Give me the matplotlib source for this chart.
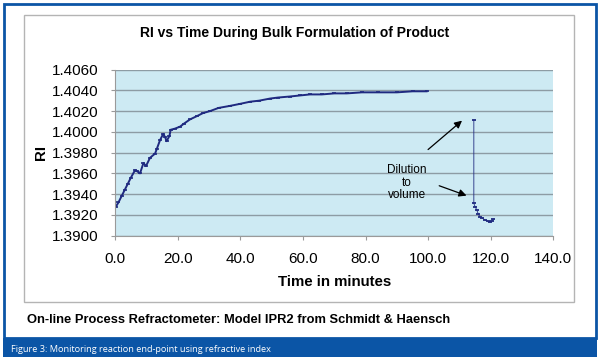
import matplotlib.pyplot as plt
from matplotlib.patches import Rectangle
import numpy as np

plt.rcParams['font.family'] = ['Liberation Sans', 'DejaVu Sans']

# RI readings before dilution
t_main = [0.2, 1.0, 2.0, 3.0, 4.0, 5.0, 6.3, 7.0, 7.9, 9.0, 9.8, 11.1, 12.7, 13.2,
          14.3, 15.3, 15.9, 16.4, 17.3, 17.7, 19.0, 20.7, 22.0, 23.9, 26.0, 28.0,
          30.3, 33.0, 36.7, 40.0, 43.1, 46.0, 49.4, 52.0, 55.8, 59.0, 62.2, 66.0,
          70.0, 74.0, 78.8, 84.0, 90.0, 95.0, 99.5]
ri_main = [1.3928, 1.3932, 1.3938, 1.3944, 1.3950, 1.3956, 1.3963, 1.3962, 1.3960,
           1.3970, 1.3967, 1.3975, 1.3979, 1.3983, 1.3992, 1.3998, 1.3995, 1.3991,
           1.3996, 1.4002, 1.4003, 1.4005, 1.4008, 1.4012, 1.4015, 1.4018, 1.4020,
           1.4023, 1.4025, 1.4027, 1.4029, 1.4030, 1.4032, 1.4033, 1.4034, 1.4035,
           1.4036, 1.4036, 1.4037, 1.4037, 1.4038, 1.4038, 1.4038, 1.4039, 1.4039]

# readings after dilution to volume
t_dil = [114.6, 114.6, 115.0, 115.5, 116.0, 116.6, 117.3, 118.2, 119.0, 119.8, 120.3, 120.8]
ri_dil = [1.4011, 1.3931, 1.3928, 1.3925, 1.3921, 1.3918, 1.3917, 1.3915, 1.3914,
          1.3913, 1.3914, 1.3916]

x_ticks = np.arange(0, 141, 20)
y_ticks = np.arange(1.3900, 1.40601, 0.002)

W, H = 600, 361
fig = plt.figure(figsize=(6, 3.61), dpi=100)


def box(x0, y0, x1, y1):
    # pixel box (top-left origin) -> figure fraction rect
    return [x0 / W, 1 - y1 / H, (x1 - x0) / W, (y1 - y0) / H]


# outer blue frame and caption band
blue = '#0b55a6'
fig.patches.append(Rectangle((3.5 / W, 1 - 338 / H), 592.5 / W, 334.5 / H, transform=fig.transFigure,
                             fill=False, edgecolor=blue, lw=2))
fig.patches.append(Rectangle((2.5 / W, 1 - 357 / H), 594.5 / W, 19 / H, transform=fig.transFigure,
                             facecolor=blue, edgecolor='none'))
# gray chart box
fig.patches.append(Rectangle((24 / W, 1 - 302 / H), 550 / W, 287 / H, transform=fig.transFigure,
                             fill=False, edgecolor='#b4b4b4', lw=1))

ax = fig.add_axes(box(115.3, 69.5, 553.3, 235.7))
ax.set_facecolor('#cdeaf3')
ax.plot(t_main, ri_main, color='#1f2a80', lw=1.4, marker='_', ms=3, mew=1.2)
ax.plot(t_dil, ri_dil, color='#1f2a80', lw=0.6, marker='_', ms=3, mew=1.3)

ax.set_xlim(0, 140)
ax.set_ylim(1.3900, 1.4060)
ax.set_xticks(x_ticks)
ax.set_xticklabels([f'{v:.1f}' for v in x_ticks], fontsize=11)
ax.set_yticks(y_ticks)
ax.set_yticklabels([f'{v:.4f}' for v in y_ticks], fontsize=11)
ax.yaxis.grid(True, color='#8d9ca4', lw=1)
ax.set_axisbelow(True)
for s in ['top', 'right']:
    ax.spines[s].set_visible(False)
for s in ['left', 'bottom']:
    ax.spines[s].set_color('#9a9a9a')
ax.tick_params(axis='both', direction='out', length=3, color='#9a9a9a')
ax.tick_params(axis='y', pad=9)
ax.tick_params(axis='x', pad=9)

ax.set_xlabel('Time in minutes', fontsize=10.8, fontweight='bold', labelpad=6)
ax.set_ylabel('RI', fontsize=10.8, fontweight='bold', labelpad=3)

ax.annotate('', xy=(111.5, 1.40125), xytext=(99.3, 1.39812),
            arrowprops=dict(arrowstyle='-|>', color='black', lw=0.9, mutation_scale=11))
ax.annotate('', xy=(113.1, 1.39377), xytext=(102.7, 1.3949),
            arrowprops=dict(arrowstyle='-|>', color='black', lw=0.9, mutation_scale=11))
ax.text(93.1, 1.39512, 'Dilution\nto\nvolume', fontsize=8.5, ha='center', va='center',
        linespacing=1.1)

fig.text(295 / W, 1 - 33 / H, 'RI vs Time During Bulk Formulation of Product',
         fontsize=10, fontweight='bold', ha='center', va='center')
fig.text(27.5 / W, 1 - 320 / H, 'On-line Process Refractometer: Model IPR2 from Schmidt & Haensch',
         fontsize=9.3, fontweight='bold', ha='left', va='center')
fig.text(11 / W, 1 - 349.5 / H, 'Figure 3: Monitoring reaction end-point using refractive index',
         fontsize=6.6, color='white', ha='left', va='center', family=['Open Sans', 'DejaVu Sans'])

fig.savefig('out.png', dpi=100)
